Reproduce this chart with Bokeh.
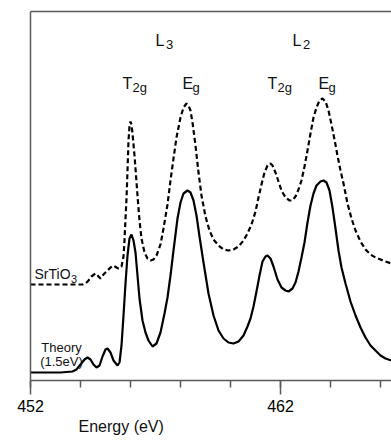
from bokeh.plotting import figure
from bokeh.models import Range1d, FixedTicker, LinearAxis, Label, Title
from bokeh.embed import file_html
from bokeh.resources import INLINE

# Theory (1.5 eV) spectrum
theory_energy = [452.00, 453.20, 453.68, 453.84, 454.00, 454.16, 454.28, 454.40, 454.52, 454.64,
                 454.76, 454.88, 455.00, 455.08, 455.20, 455.32, 455.48, 455.56, 455.64, 455.72,
                 455.80, 455.88, 455.96, 456.04, 456.12, 456.20, 456.28, 456.36, 456.48, 456.60,
                 456.72, 456.88, 457.04, 457.20, 457.36, 457.48, 457.60, 457.72, 457.88, 458.00,
                 458.12, 458.28, 458.40, 458.52, 458.64, 458.76, 458.92, 459.12, 459.32, 459.52,
                 459.72, 459.92, 460.12, 460.32, 460.52, 460.68, 460.80, 460.92, 461.04, 461.16,
                 461.28, 461.40, 461.48, 461.60, 461.72, 461.88, 462.04, 462.20, 462.32, 462.48,
                 462.60, 462.72, 462.84, 462.96, 463.08, 463.20, 463.32, 463.44, 463.60, 463.72,
                 463.84, 463.96, 464.08, 464.20, 464.32, 464.44, 464.60, 464.80, 465.00, 465.20,
                 465.40, 465.60, 465.80, 466.00, 466.20, 466.44]
theory_intensity = [0.08, 0.08, 0.09, 0.11, 0.16, 0.21, 0.23, 0.21, 0.16, 0.13,
                    0.15, 0.24, 0.31, 0.32, 0.28, 0.20, 0.15, 0.18, 0.35, 0.65,
                    0.97, 1.25, 1.42, 1.46, 1.40, 1.28, 1.05, 0.82, 0.60, 0.48,
                    0.40, 0.34, 0.37, 0.48, 0.67, 0.83, 1.05, 1.30, 1.62, 1.78,
                    1.87, 1.90, 1.88, 1.80, 1.65, 1.44, 1.18, 0.87, 0.65, 0.50,
                    0.42, 0.38, 0.37, 0.39, 0.45, 0.54, 0.62, 0.74, 0.89, 1.05,
                    1.19, 1.24, 1.25, 1.22, 1.14, 1.01, 0.93, 0.90, 0.89, 0.92,
                    0.98, 1.09, 1.23, 1.38, 1.58, 1.75, 1.87, 1.95, 1.99, 2.00,
                    1.98, 1.90, 1.73, 1.52, 1.30, 1.13, 0.97, 0.79, 0.65, 0.53,
                    0.43, 0.35, 0.30, 0.25, 0.22, 0.20]

# SrTiO3 experimental spectrum
srtio3_energy = [452.00, 454.08, 454.20, 454.32, 454.44, 454.60, 454.72, 454.80, 454.92, 455.08,
                 455.20, 455.32, 455.44, 455.52, 455.64, 455.72, 455.76, 455.80, 455.84, 455.88,
                 455.92, 455.96, 456.00, 456.04, 456.08, 456.16, 456.20, 456.28, 456.36, 456.44,
                 456.56, 456.68, 456.80, 456.92, 457.04, 457.20, 457.32, 457.48, 457.60, 457.72,
                 457.84, 458.00, 458.12, 458.24, 458.32, 458.40, 458.48, 458.60, 458.72, 458.84,
                 459.00, 459.16, 459.32, 459.52, 459.72, 459.92, 460.12, 460.32, 460.52, 460.68,
                 460.84, 461.00, 461.12, 461.24, 461.36, 461.48, 461.60, 461.68, 461.80, 461.92,
                 462.04, 462.20, 462.36, 462.48, 462.60, 462.72, 462.84, 462.96, 463.08, 463.20,
                 463.32, 463.44, 463.56, 463.68, 463.80, 463.92, 464.04, 464.16, 464.28, 464.40,
                 464.52, 464.68, 464.84, 465.00, 465.20, 465.40, 465.60, 465.80, 466.00, 466.20,
                 466.44]
srtio3_intensity = [0.96, 0.96, 0.97, 1.00, 1.04, 1.07, 1.04, 1.02, 1.06, 1.10,
                    1.13, 1.15, 1.13, 1.12, 1.14, 1.24, 1.40, 1.62, 1.82, 2.10,
                    2.40, 2.54, 2.59, 2.56, 2.47, 2.25, 2.12, 1.85, 1.60, 1.42,
                    1.28, 1.22, 1.20, 1.21, 1.25, 1.36, 1.52, 1.76, 2.00, 2.22,
                    2.43, 2.63, 2.73, 2.77, 2.75, 2.70, 2.58, 2.35, 2.08, 1.85,
                    1.64, 1.50, 1.41, 1.35, 1.31, 1.30, 1.31, 1.34, 1.40, 1.47,
                    1.56, 1.69, 1.83, 1.96, 2.08, 2.15, 2.17, 2.15, 2.08, 1.99,
                    1.90, 1.83, 1.80, 1.80, 1.84, 1.91, 2.00, 2.14, 2.30, 2.47,
                    2.63, 2.73, 2.80, 2.82, 2.79, 2.70, 2.56, 2.41, 2.25, 2.10,
                    1.97, 1.77, 1.62, 1.50, 1.39, 1.31, 1.26, 1.23, 1.21, 1.19,
                    1.17]

major_ticks = [452, 462]
minor_ticks = [452, 454, 456, 458, 460, 462, 464, 466]

FONT = "Liberation Sans"
AXIS_COLOR = "#5a5a5a"

p = figure(width=391, height=441, output_backend="svg", toolbar_location=None,
           x_range=Range1d(452, 466.44), y_range=Range1d(0, 3.69),
           min_border_left=30, min_border_right=0, min_border_top=11, min_border_bottom=61)
p.xgrid.visible = False
p.ygrid.visible = False
p.outline_line_color = None
p.background_fill_color = "white"
p.border_fill_color = "white"

# bottom axis
xa = p.xaxis[0]
xa.ticker = FixedTicker(ticks=major_ticks, minor_ticks=minor_ticks)
xa.major_tick_in = 0
xa.major_tick_out = 14
xa.minor_tick_in = 0
xa.minor_tick_out = 7
xa.axis_line_color = AXIS_COLOR
xa.axis_line_width = 1.5
xa.major_tick_line_color = AXIS_COLOR
xa.major_tick_line_width = 1.5
xa.minor_tick_line_color = AXIS_COLOR
xa.minor_tick_line_width = 1.5
xa.major_label_text_font = FONT
xa.major_label_text_font_size = "16px"
xa.major_label_text_color = "black"
xa.major_label_standoff = 5

# axis title, offset toward the left as in the reference
p.add_layout(Title(text="Energy (eV)", align="left", offset=48, text_font=FONT,
                   text_font_size="16px", text_font_style="normal", text_color="#111111",
                   standoff=3), "below")

# left axis (line only)
ya = p.yaxis[0]
ya.ticker = FixedTicker(ticks=[])
ya.major_tick_out = 0
ya.major_tick_in = 0
ya.minor_tick_out = 0
ya.minor_tick_in = 0
ya.major_label_text_font_size = "0px"
ya.axis_line_color = AXIS_COLOR
ya.axis_line_width = 1.5

# top line
top = LinearAxis(ticker=FixedTicker(ticks=[]), major_tick_out=0, major_tick_in=0,
                 minor_tick_out=0, minor_tick_in=0, major_label_text_font_size="0px",
                 axis_line_color=AXIS_COLOR, axis_line_width=1.5)
p.add_layout(top, "above")

p.line(srtio3_energy, srtio3_intensity, line_color="black", line_width=2.2, line_dash="5 3")
p.line(theory_energy, theory_intensity, line_color="black", line_width=2.2)

def lab(x, y, t, size, align="left"):
    p.add_layout(Label(x=x, y=y, text=t, text_font=FONT, text_font_size=size,
                       text_color="#111111", text_align=align, text_baseline="alphabetic"))

# edge labels
lab(457.00, 3.40, "L", "16px")
lab(457.42, 3.36, "3", "13px")
lab(462.48, 3.40, "L", "16px")
lab(462.90, 3.36, "2", "13px")
# peak labels
lab(455.68, 2.97, "T", "16px")
lab(456.08, 2.93, "2g", "13px")
lab(458.08, 2.97, "E", "16px")
lab(458.48, 2.93, "g", "13px")
lab(461.48, 2.97, "T", "16px")
lab(461.88, 2.93, "2g", "13px")
lab(463.52, 2.97, "E", "16px")
lab(463.92, 2.93, "g", "13px")
# series labels
lab(452.16, 1.07, "SrTiO", "14px")
lab(453.62, 1.02, "3", "11px")
lab(453.24, 0.33, "Theory", "13px", "center")
lab(453.24, 0.19, "(1.5eV)", "13px", "center")

open("out.html", "w").write(file_html(p, INLINE))
